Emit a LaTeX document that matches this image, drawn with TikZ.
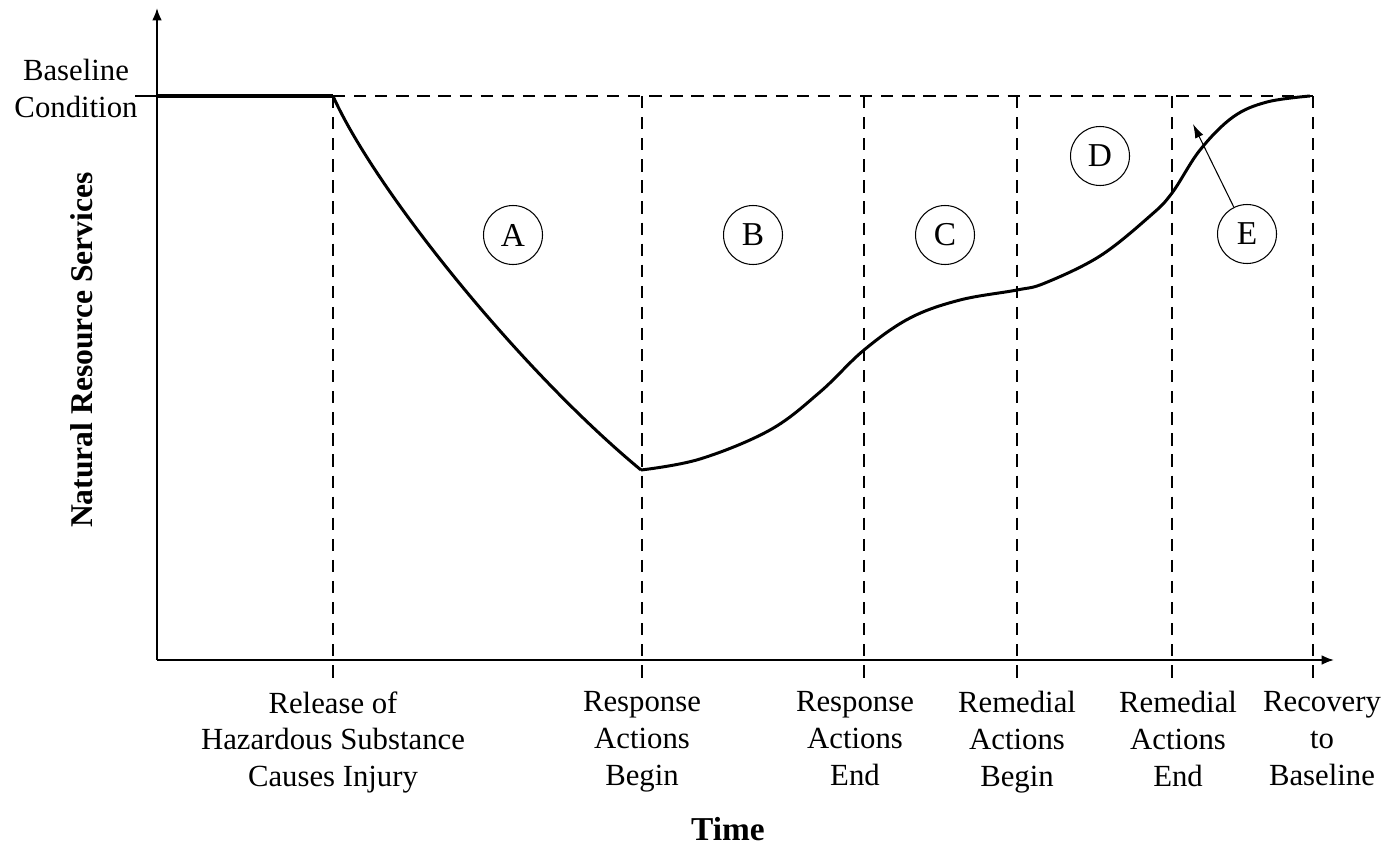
\documentclass[tikz,border=0pt]{standalone}
\usepackage{fontspec}
\setmainfont{Liberation Serif}
\usetikzlibrary{arrows.meta}

\begin{document}
\begin{tikzpicture}[
  x=0.02cm, y=-0.02cm,
  axis/.style={line width=1.1pt},
  guide/.style={line width=1.1pt, dash pattern=on 7pt off 5pt},
  curve/.style={line width=1.7pt, line join=round},
  region/.style={draw, circle, line width=0.6pt, minimum size=1.18cm, inner sep=0pt,
    font=\fontsize{19}{22}\selectfont},
  tlabel/.style={anchor=north, inner sep=0pt, align=center,
    font=\fontsize{17.5}{21}\selectfont}
]
  \useasboundingbox (0,0) rectangle (1392,845);

  % axes
  \coordinate (o) at (157,660);
  \coordinate (ytop) at (157,8);
  \coordinate (xend) at (1334,660);
  \draw[axis,-{Latex[length=7pt,width=5.5pt]}] (o) -- (ytop);
  \draw[axis,-{Latex[length=7pt,width=5.5pt]}] (o) -- (xend);

  % time marks
  \foreach \n/\x in {rel/333, rb/642, re/864, mb/1017, me/1172, rec/1313} {
    \coordinate (\n-t) at (\x,96);
    \coordinate (\n-b) at (\x,682);
    \draw[guide] (\n-t) -- (\n-b);
  }

  % baseline
  \coordinate (b0) at (135,96);
  \coordinate (base) at (157,96);
  \draw[axis] (b0) -- (base);
  \draw[line width=2pt] (base) -- (rel-t);
  \draw[guide] (rel-t) -- (rec-t);

  % service curve
  \coordinate (low) at (641,470);
  \draw[curve] (rel-t) .. controls (375,190) and (520,370) .. (low);
  \draw[curve] plot[smooth, tension=0.6] coordinates {
    (641,470) (700,459) (770,430) (820,392) (864,350) (910,318) (960,300)
    (1017,290) (1045,283) (1100,256) (1150,216) (1172,193) (1200,150)
    (1233,117) (1267,102) (1310,96)};

  % regions
  \node[region] (A) at (513,235) {A};
  \node[region] (B) at (753,235) {B};
  \node[region] (C) at (945,235) {C};
  \node[region] (D) at (1100,156) {D};
  \node[region] (E) at (1247,234) {E};
  \coordinate (eTip) at (1193,124);
  \draw[line width=0.6pt,-{Latex[length=8pt,width=5pt]}] (E) -- (eTip);

  % labels
  \node[tlabel] (lbase) at (76,59) {Baseline\\Condition};
  \node[tlabel] (lrel) at (333,691) {Release of\\Hazardous Substance\\Causes Injury};
  \node[tlabel] (lrb) at (642,691) {Response\\Actions\\Begin};
  \node[tlabel] (lre) at (855,691) {Response\\Actions\\End};
  \node[tlabel] (lmb) at (1017,691) {Remedial\\Actions\\Begin};
  \node[tlabel] (lme) at (1178,691) {Remedial\\Actions\\End};
  \node[tlabel] (lrec) at (1322,691) {Recovery\\to\\Baseline};
  \node[anchor=base, font=\bfseries\fontsize{19}{22}\selectfont] (time) at (728,840) {Time};
  \node[anchor=base, rotate=90, font=\bfseries\fontsize{18}{22}\selectfont] (ylab) at (92,350)
    {Natural Resource Services};

\end{tikzpicture}
\end{document}
